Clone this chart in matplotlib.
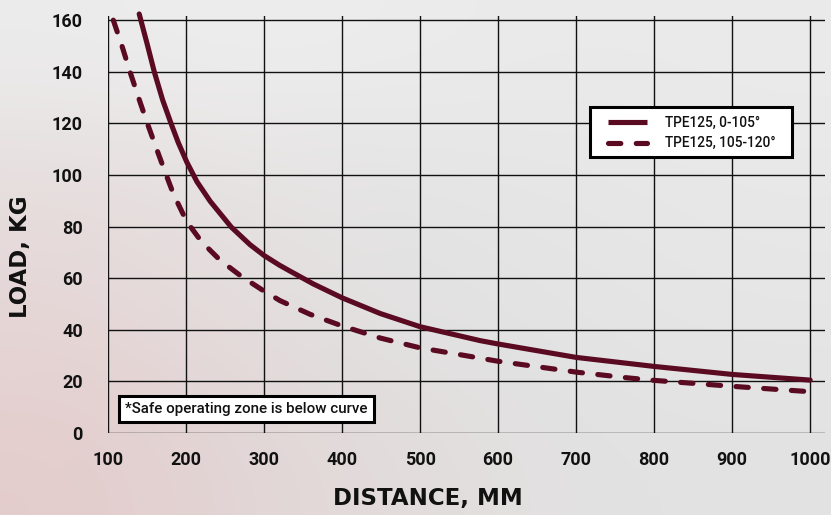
import matplotlib
matplotlib.use("Agg")
import matplotlib.pyplot as plt
import numpy as np
from matplotlib.lines import Line2D
from matplotlib.patches import Rectangle
from matplotlib.colors import to_rgb

# ---- data ----
solid_x = [140, 150, 159.4, 170, 181, 190, 201, 214, 231, 258, 282, 300, 320, 333, 363,
           400, 449, 500, 577, 600, 700, 800, 900, 1000]
solid_y = [162.4, 151, 139.9, 129.1, 119.8, 112.6, 105, 97.4, 89.8, 79.8, 73.0, 68.8, 65.0, 62.8, 57.8,
           52.4, 46.3, 41.2, 35.8, 34.5, 29.3, 25.8, 22.7, 20.5]
dash_x = [106.8, 117.5, 128.2, 138.8, 149.6, 162.4, 173, 184, 201, 220, 243.6, 271.4, 299, 320.5,
          359, 400, 449, 500, 560, 600, 700, 765, 800, 900, 1000]
dash_y = [160, 150.4, 140, 130.3, 120.7, 110, 101.3, 92.5, 81.9, 74.1, 67, 60.6, 55.2, 51.3,
          46.0, 41.5, 36.8, 33.0, 29.9, 27.8, 23.6, 21.4, 20.4, 18.1, 16]
series_labels = ["TPE125, 0-105°", "TPE125, 105-120°"]
x_ticks = [100, 200, 300, 400, 500, 600, 700, 800, 900, 1000]
y_ticks = [0, 20, 40, 60, 80, 100, 120, 140, 160]
note_text = "*Safe operating zone is below curve"
x_label = "DISTANCE, MM"
y_label = "LOAD, KG"

W, H = 831, 515
DPI = 100
fig = plt.figure(figsize=(W / DPI, H / DPI), dpi=DPI)
fig.patch.set_facecolor("#e6e6e6")

# soft blurred background (decorative)
bg = fig.add_axes([0, 0, 1, 1], zorder=-10)
cols = [
    ["#ececec", "#eeeeee", "#ececec", "#eaeaea", "#ebebeb"],
    ["#e6dcdc", "#e6e2e2", "#e4e4e4", "#e6e6e6", "#e8e8e8"],
    ["#e6d6d6", "#e4dddd", "#e2e2e2", "#e4e4e4", "#e6e6e6"],
    ["#e4cccc", "#e2d6d6", "#e2dcdc", "#e2e2e2", "#e2e2e2"],
]
img = np.array([[to_rgb(c) for c in row] for row in cols])
bg.imshow(img, aspect="auto", interpolation="bicubic", extent=[0, 1, 0, 1])
bg.set_axis_off()

ax = fig.add_axes([108 / W, (H - 433) / H, 717 / W, (433 - 16.3) / H])
ax.set_facecolor("none")
ax.set_xlim(100, 1019)
ax.set_ylim(0, 161.5)
for s in ax.spines.values():
    s.set_visible(False)
ax.set_xticks(x_ticks)
ax.set_yticks(y_ticks)
ax.grid(True, color="#111111", linewidth=1.0)
ax.set_axisbelow(True)
ax.tick_params(length=0)
ax.tick_params(axis="y", pad=18)
ax.tick_params(axis="x", pad=13)
for lab in ax.get_xticklabels() + ax.get_yticklabels():
    lab.set_fontfamily("Roboto")
    lab.set_fontweight("bold")
    lab.set_fontsize(13)
    lab.set_color("#111111")

color = "#5a0b22"
lw = 3.7
dash = (0, (2.4, 3.0))
ax.plot(solid_x, solid_y, color=color, lw=lw, solid_capstyle="round",
        solid_joinstyle="round", clip_on=False, zorder=3)
ax.plot(dash_x, dash_y, color=color, lw=lw, linestyle=dash,
        dash_capstyle="round", dash_joinstyle="round", clip_on=False, zorder=3)

# legend frame drawn as a rectangle, legend content placed inside it
fig.patches.append(Rectangle((590 / W, 1 - 157 / H), 202 / W, 50 / H, transform=fig.transFigure,
                             facecolor="white", edgecolor="black", linewidth=2.2, zorder=5))
handles = [
    Line2D([], [], color=color, lw=lw, solid_capstyle="butt"),
    Line2D([], [], color=color, lw=lw, linestyle=dash, dash_capstyle="round"),
]
fs_leg = 9.8
leg = fig.legend(handles, series_labels, loc="center left",
                 bbox_to_anchor=(608 / W, 1 - 133 / H), bbox_transform=fig.transFigure,
                 prop={"family": "Roboto", "weight": "medium", "size": fs_leg},
                 frameon=False, handlelength=2.9, handletextpad=1.3,
                 borderpad=0, labelspacing=0.5, borderaxespad=0)
leg.set_zorder(6)
for t in leg.get_texts():
    t.set_color("#111111")

fig.text(125 / W, 1 - 409 / H, note_text, fontfamily="Roboto", fontweight="medium",
         fontsize=10.9, color="#111111", va="center", ha="left",
         bbox=dict(boxstyle="square,pad=0.4", facecolor="white", edgecolor="black", linewidth=2.2))

fig.text(21 / W, 1 - 257 / H, y_label, rotation=90, fontfamily="DejaVu Sans", fontweight="bold",
         fontsize=16.5, color="#111111", ha="center", va="center")
fig.text(428 / W, 1 - 498 / H, x_label, fontfamily="DejaVu Sans", fontweight="bold",
         fontsize=16.5, color="#111111", ha="center", va="center")

fig.savefig("out.png", dpi=DPI, facecolor=fig.get_facecolor())
